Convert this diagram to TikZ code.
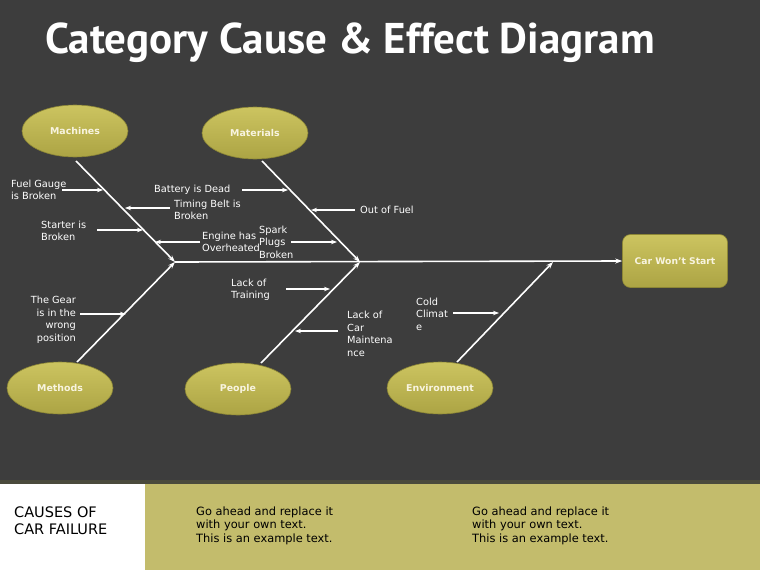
\documentclass[tikz,border=0pt]{standalone}
\usepackage{fontspec}
\setmainfont{DejaVu Sans}
\newfontfamily\titlefont{PT Sans}
\usetikzlibrary{shapes.geometric,arrows.meta}
\definecolor{bgc}{HTML}{3D3D3D}
\definecolor{oliveband}{HTML}{C3BC6C}
\definecolor{strip}{HTML}{4A4A3C}
\definecolor{oltop}{HTML}{CCC460}
\definecolor{olbot}{HTML}{ACA444}
\definecolor{oledge}{HTML}{8C8636}
\definecolor{cattext}{HTML}{F8F4E0}
\begin{document}
\begin{tikzpicture}[x=1pt,y=-1pt,
  cat/.style={ellipse,minimum width=106pt,minimum height=52pt,inner sep=0pt,
    top color=oltop,bottom color=olbot,draw=oledge,line width=0.6pt,
    text=cattext,font=\fontsize{9.4}{11}\selectfont\bfseries},
  effect/.style={rectangle,rounded corners=8pt,minimum width=105pt,minimum height=53pt,
    top color=oltop,bottom color=olbot,draw=oledge,line width=0.6pt,
    text=cattext,font=\fontsize{9.2}{11}\selectfont\bfseries},
  lbl/.style={text=white,font=\fontsize{9.8}{12.5}\selectfont,inner sep=0pt,align=left},
  bone/.style={draw=white,line width=1.6pt,-{Stealth[length=7pt,width=5pt]}},
  sub/.style={draw=white,line width=1.4pt,-{Stealth[length=6pt,width=4.5pt]}},
  foot/.style={text=black,inner sep=0pt,align=left}]
\fill[bgc] (0,0) rectangle (760,570);
\useasboundingbox (0,0) rectangle (760,570);
% footer band
\fill[strip] (0,480) rectangle (760,484);
\fill[white] (0,484) rectangle (145,570);
\fill[oliveband] (145,484) rectangle (760,570);
% title
\node[anchor=base west,text=white,inner sep=0pt,font=\titlefont\fontsize{43}{48}\selectfont\bfseries] (title) at (45,53) {Category Cause \& Effect Diagram};
% category nodes
\node[cat] (mach) at (75,131) {Machines};
\node[cat] (mat) at (255,133) {Materials};
\node[cat] (meth) at (60,388) {Methods};
\node[cat] (peop) at (238,389) {People};
\node[cat] (env) at (440,388) {Environment};
\node[effect] (car) at (675,261) {Car Won't Start};
% junctions and bone starts
\coordinate (j1) at (175,262);
\coordinate (j2) at (360,262);
\coordinate (j3) at (553,262);
\coordinate (machb) at (76,161);
\coordinate (matb) at (262,161);
\coordinate (methb) at (77,362);
\coordinate (peopb) at (261,363);
\coordinate (envb) at (457,362);
% spine
\draw[bone] (j1) -- (car.west);
% bones
\draw[bone] (machb) -- (j1);
\draw[bone] (matb) -- (j2);
\draw[bone] (methb) -- (j1);
\draw[bone] (peopb) -- (j2);
\draw[bone] (envb) -- (j3);
% labels
\node[lbl,anchor=west] (fuel) at (11,190) {Fuel Gauge\\is Broken};
\node[lbl,anchor=west] (timing) at (174,210) {Timing Belt is\\Broken};
\node[lbl,anchor=west] (battery) at (154,190) {Battery is Dead};
\node[lbl,anchor=west] (starter) at (41,231) {Starter is\\Broken};
\node[lbl,anchor=west] (engine) at (202,242) {Engine has\\Overheated};
\node[lbl,anchor=west] (spark) at (259,242) {Spark\\Plugs\\Broken};
\node[lbl,anchor=west] (outfuel) at (360,210) {Out of Fuel};
\node[lbl,anchor=west] (train) at (231,290) {Lack of\\Training};
\node[lbl,anchor=west] (maint) at (347,334) {Lack of\\Car\\Maintena\\nce};
\node[lbl,anchor=east,align=right] (gear) at (76,320) {The Gear\\is in the\\wrong\\position};
\node[lbl,anchor=west] (cold) at (416,314) {Cold\\Climat\\e};
% sub-cause arrow ends
\coordinate (a1s) at (62,190);  \coordinate (a1e) at (103,190);
\coordinate (a2s) at (170,208); \coordinate (a2e) at (125,208);
\coordinate (a3s) at (242,190); \coordinate (a3e) at (288,190);
\coordinate (a4s) at (97,230);  \coordinate (a4e) at (143,230);
\coordinate (a5s) at (200,242); \coordinate (a5e) at (155,242);
\coordinate (a6s) at (291,242); \coordinate (a6e) at (337,242);
\coordinate (a7s) at (355,210); \coordinate (a7e) at (311,210);
\coordinate (a8s) at (286,289); \coordinate (a8e) at (330,289);
\coordinate (a9s) at (338,331); \coordinate (a9e) at (295,331);
\coordinate (a10s) at (80,314); \coordinate (a10e) at (126,314);
\coordinate (a11s) at (453,313); \coordinate (a11e) at (499,313);
\foreach \i in {1,...,11} {\draw[sub] (a\i s) -- (a\i e);}
% footer texts
\node[foot,anchor=west,font=\fontsize{14.5}{17}\selectfont] (causes) at (14,520.5) {CAUSES OF\\CAR FAILURE};
\node[foot,anchor=west,font=\fontsize{11.4}{13.5}\selectfont] (ft1) at (196,525.5) {Go ahead and replace it\\with your own text.\\This is an example text.};
\node[foot,anchor=west,font=\fontsize{11.4}{13.5}\selectfont] (ft2) at (472,525.5) {Go ahead and replace it\\with your own text.\\This is an example text.};
\end{tikzpicture}
\end{document}
